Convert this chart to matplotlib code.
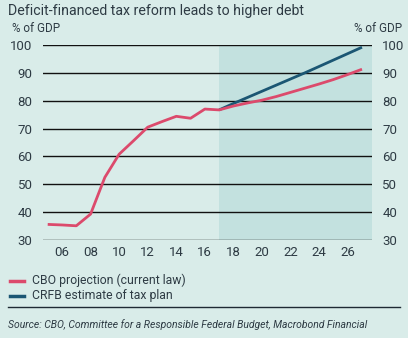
import matplotlib
matplotlib.use("Agg")
import matplotlib.pyplot as plt
from matplotlib.lines import Line2D

plt.rcParams['font.family'] = ['Roboto', 'DejaVu Sans']

years_hist = [2005, 2006, 2007, 2008, 2009, 2010, 2011, 2012, 2013, 2014, 2015, 2016, 2017]
cbo_hist = [35.6, 35.4, 35.1, 39.3, 52.5, 60.8, 65.6, 70.5, 72.5, 74.4, 73.7, 77.0, 76.7]
years_proj = [2017, 2018, 2019, 2020, 2021, 2022, 2023, 2024, 2025, 2026, 2027]
cbo_proj = [76.7, 78.1, 79.2, 80.2, 81.5, 83.0, 84.5, 86.0, 87.6, 89.4, 91.3]
crfb = [76.7, 79.0, 81.2, 83.4, 85.6, 87.8, 90.0, 92.3, 94.6, 96.9, 99.2]
yticks = [30, 40, 50, 60, 70, 80, 90, 100]
xticks = [2006, 2008, 2010, 2012, 2014, 2016, 2018, 2020, 2022, 2024, 2026]
xlabels = ['06', '08', '10', '12', '14', '16', '18', '20', '22', '24', '26']

bg = '#d9ece9'
shade = '#c3e1df'
pink = '#dc4a6c'
blue = '#1b5673'
txt = '#2e3b44'

W, H = 408, 338
fig = plt.figure(figsize=(W/100, H/100), dpi=100, facecolor=bg)
ax = fig.add_axes([43/W, 1-240/H, (372-43)/W, (240-45)/H])
ax.set_facecolor(bg)
ax.set_xlim(2004.67, 2027.7)
ax.set_ylim(30, 100)
ax.axvspan(2017, 2027.7, color=shade, lw=0, zorder=0)
for v in yticks:
    ax.axhline(v, color='#111111', lw=1.0, zorder=1)
all_years = years_hist + years_proj[1:]
cbo_all = cbo_hist + cbo_proj[1:]
ax.plot(years_proj, crfb, color=blue, lw=2.0, zorder=3, solid_capstyle='butt')
ax.plot(all_years, cbo_all, color=pink, lw=2.0, zorder=4, solid_capstyle='butt')
for s in ax.spines.values():
    s.set_visible(False)
ax.set_yticks(yticks)
ax.set_xticks(xticks)
ax.set_xticklabels(xlabels)
ax.tick_params(axis='both', length=0, labelsize=9.5, colors=txt)
ax.tick_params(axis='x', pad=4)
ax.tick_params(axis='y', labelleft=True, labelright=True, pad=7.5)

fig.text(8/W, 1-11/H, 'Deficit-financed tax reform leads to higher debt', fontsize=10.2, color=txt, va='center', ha='left')
fig.text(12/W, 1-28/H, '% of GDP', fontsize=8.4, color=txt, va='center', ha='left')
fig.text(402/W, 1-28/H, '% of GDP', fontsize=8.4, color=txt, va='center', ha='right')

fig.add_artist(Line2D([10/W, 24/W], [1-281/H, 1-281/H], color=pink, lw=2.5))
fig.add_artist(Line2D([10/W, 24/W], [1-296/H, 1-296/H], color=blue, lw=2.5))
fig.text(32/W, 1-280/H, 'CBO projection (current law)', fontsize=8.8, color=txt, va='center', ha='left')
fig.text(32/W, 1-295/H, 'CRFB estimate of tax plan', fontsize=8.8, color=txt, va='center', ha='left')
fig.add_artist(Line2D([8/W, 400/W], [1-307/H, 1-307/H], color='#1e2a33', lw=1.0))
fig.text(8/W, 1-325/H, 'Source: CBO, Committee for a Responsible Federal Budget, Macrobond Financial',
         fontsize=7.5, style='italic', color=txt, va='center', ha='left')

fig.savefig('out.png', dpi=100, facecolor=bg)
